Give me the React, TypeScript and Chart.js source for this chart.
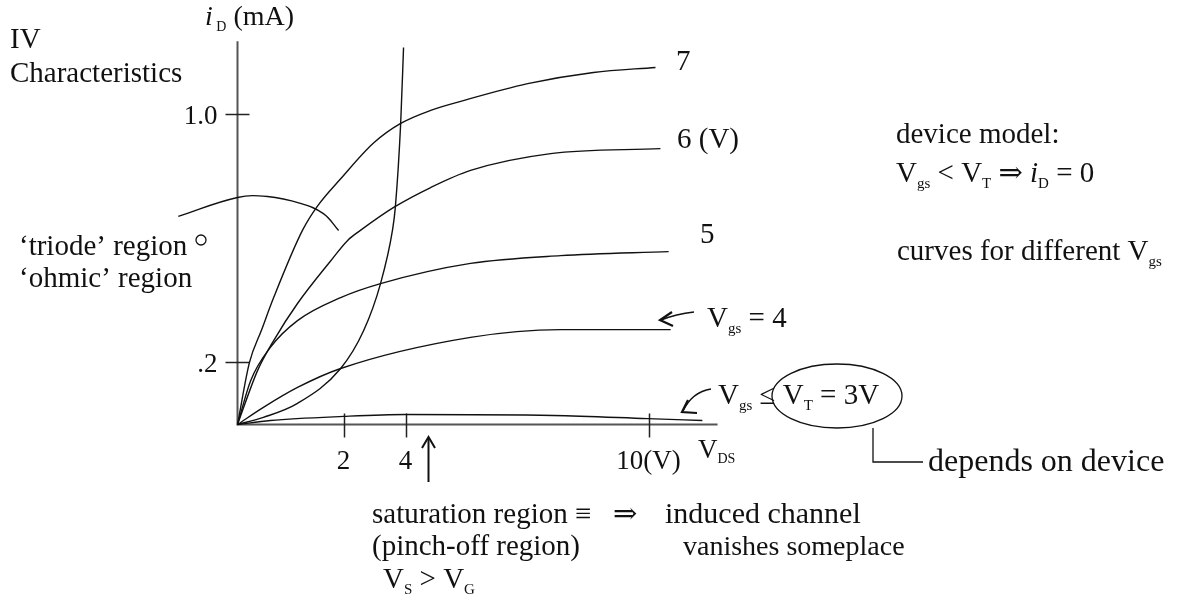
import React, { useEffect, useRef } from "react";
import { Chart, registerables } from "chart.js";

Chart.register(...registerables);

// ---------- data (x: V_DS in drawing units, y: i_D in mA) ----------
const vgs7: [number, number][] = [
  [0, 0], [0.29, 0.199], [0.58, 0.302], [0.88, 0.408], [1.58, 0.624], [1.95, 0.703],
  [2.51, 0.79], [3.31, 0.905], [3.97, 0.968], [4.7, 1.01], [5.43, 1.039], [7.06, 1.096],
  [8.66, 1.132], [10.17, 1.148],
];
const vgs6: [number, number][] = [
  [0, 0], [0.49, 0.174], [0.88, 0.27], [1.46, 0.389], [2.26, 0.525], [2.68, 0.592],
  [2.99, 0.624], [3.8, 0.698], [4.7, 0.762], [5.67, 0.817], [7.62, 0.871], [10.29, 0.887],
];
const vgs5: [number, number][] = [
  [0, 0], [0.32, 0.141], [0.8, 0.248], [1.46, 0.334], [2.51, 0.408], [3.48, 0.453],
  [5.67, 0.518], [7.86, 0.543], [10.49, 0.556],
];
const vgs4: [number, number][] = [
  [0, 0], [0.63, 0.055], [1.46, 0.119], [2.51, 0.18], [5.67, 0.28], [7.86, 0.305], [10.54, 0.305],
];
const vgs3: [number, number][] = [
  [0, 0], [0.8, 0.013], [2.58, 0.026], [4.09, 0.032], [7.69, 0.029], [9.98, 0.019], [11.31, 0.013],
];
const pinchOff: [number, number][] = [
  [0, 0], [0.63, 0.023], [1.46, 0.068], [2.51, 0.18], [3.07, 0.302], [3.48, 0.453],
  [3.77, 0.624], [3.84, 0.698], [3.97, 0.968], [4.04, 1.212],
];
const triodeArc: [number, number][] = [
  [-1.44, 0.669], [0, 0.73], [0.73, 0.733], [1.53, 0.711], [2.09, 0.678], [2.46, 0.624],
];

const xTickValues = [2.58, 4.09, 10];
const xTickLabels = ["2", "4", "10(V)"];
const yTickValues = [1.0, 0.2];
const yTickLabels = ["1.0", ".2"];
const xAxisEnd = 11.68;
const yAxisEnd = 1.232;

// ---------- layout ----------
const W = 1182;
const H = 598;
const ORIGIN_X = 237.5;
const ORIGIN_Y = 424.5;
const PX_X = 41.1;
const PX_Y = 311;

const SERIF = '"Liberation Serif", "Times New Roman", "DejaVu Serif", serif';
const BASE = 29;

type Seg = { t: string; sub?: boolean; it?: boolean };
type Note = { x: number; y: number; segs: Seg[]; size?: number };

const notes: Note[] = [
  { x: 10, y: 48, segs: [{ t: "IV" }] },
  { x: 10, y: 82, segs: [{ t: "Characteristics" }] },
  { x: 205, y: 25, size: 28, segs: [{ t: "i", it: true }, { t: " D", sub: true }, { t: " (mA)" }] },
  { x: 676, y: 70, segs: [{ t: "7" }] },
  { x: 677, y: 148, segs: [{ t: "6 (V)" }] },
  { x: 700, y: 243, segs: [{ t: "5" }] },
  { x: 707, y: 327, segs: [{ t: "V" }, { t: "gs", sub: true }, { t: " = 4" }] },
  { x: 718, y: 404, segs: [{ t: "V" }, { t: "gs", sub: true }, { t: " \u2264 " }, { t: "V" }, { t: "T", sub: true }, { t: " = 3V" }] },
  { x: 896, y: 143, segs: [{ t: "device model:" }] },
  { x: 896, y: 182, segs: [{ t: "V" }, { t: "gs", sub: true }, { t: " < V" }, { t: "T", sub: true }, { t: " \u21D2 " }, { t: "i", it: true }, { t: "D", sub: true }, { t: " = 0" }] },
  { x: 897, y: 260, segs: [{ t: "curves for different V" }, { t: "gs", sub: true }] },
  { x: 19, y: 255, segs: [{ t: "\u2018triode\u2019 region" }] },
  { x: 19, y: 287, segs: [{ t: "\u2018ohmic\u2019 region" }] },
  { x: 372, y: 523, segs: [{ t: "saturation region \u2261" }] },
  { x: 613, y: 523, segs: [{ t: "\u21D2" }] },
  { x: 665, y: 523, size: 30, segs: [{ t: "induced channel" }] },
  { x: 372, y: 555, segs: [{ t: "(pinch-off region)" }] },
  { x: 683, y: 555, size: 28, segs: [{ t: "vanishes someplace" }] },
  { x: 383, y: 588, segs: [{ t: "V" }, { t: "S", sub: true }, { t: " > V" }, { t: "G", sub: true }] },
  { x: 928, y: 471, size: 32, segs: [{ t: "depends on device" }] },
  { x: 698, y: 458, size: 27, segs: [{ t: "V" }, { t: "DS", sub: true }] },
];

function drawRich(ctx: CanvasRenderingContext2D, n: Note) {
  const base = n.size ?? BASE;
  let cx = n.x;
  ctx.textAlign = "left";
  ctx.textBaseline = "alphabetic";
  for (const s of n.segs) {
    const size = s.sub ? Math.round(base * 0.5) : base;
    ctx.font = `${s.it ? "italic " : ""}${size}px ${SERIF}`;
    const dy = s.sub ? base * 0.2 : 0;
    ctx.fillText(s.t, cx, n.y + dy);
    cx += ctx.measureText(s.t).width;
  }
}

function arrowHead(ctx: CanvasRenderingContext2D, tx: number, ty: number, ax: number, ay: number, bx: number, by: number) {
  ctx.beginPath();
  ctx.moveTo(ax, ay);
  ctx.lineTo(tx, ty);
  ctx.lineTo(bx, by);
  ctx.stroke();
}

const diagramPlugin = {
  id: "diagram",
  beforeDatasetsDraw(chart: any) {
    const ctx: CanvasRenderingContext2D = chart.ctx;
    const xs = chart.scales.x;
    const ys = chart.scales.y;
    const x0 = xs.getPixelForValue(0);
    const y0 = ys.getPixelForValue(0);
    ctx.save();
    ctx.strokeStyle = "#555";
    ctx.lineWidth = 2;
    ctx.beginPath();
    ctx.moveTo(x0, ys.getPixelForValue(yAxisEnd));
    ctx.lineTo(x0, y0);
    ctx.lineTo(xs.getPixelForValue(xAxisEnd), y0);
    ctx.stroke();
    ctx.lineWidth = 1.5;
    ctx.strokeStyle = "#222";
    xTickValues.forEach((v) => {
      const px = Math.round(xs.getPixelForValue(v)) + 0.5;
      ctx.beginPath();
      ctx.moveTo(px, y0 - 11);
      ctx.lineTo(px, y0 + 13);
      ctx.stroke();
    });
    yTickValues.forEach((v) => {
      const py = Math.round(ys.getPixelForValue(v)) + 0.5;
      ctx.beginPath();
      ctx.moveTo(x0 - 12, py);
      ctx.lineTo(x0 + 12, py);
      ctx.stroke();
    });
    ctx.fillStyle = "#111";
    ctx.font = `27px ${SERIF}`;
    ctx.textBaseline = "alphabetic";
    ctx.textAlign = "center";
    xTickValues.forEach((v, i) => {
      ctx.fillText(xTickLabels[i], xs.getPixelForValue(v), y0 + 44);
    });
    ctx.textAlign = "right";
    yTickValues.forEach((v, i) => {
      ctx.fillText(yTickLabels[i], x0 - 20, ys.getPixelForValue(v) + 10);
    });
    ctx.restore();
  },
  afterDraw(chart: any) {
    const ctx: CanvasRenderingContext2D = chart.ctx;
    ctx.save();
    ctx.fillStyle = "#111";
    ctx.strokeStyle = "#111";
    notes.forEach((n) => drawRich(ctx, n));

    ctx.lineWidth = 1.3;
    ctx.beginPath();
    ctx.arc(201, 240, 5, 0, Math.PI * 2);
    ctx.stroke();

    ctx.beginPath();
    ctx.ellipse(837, 396, 65, 32, 0, 0, Math.PI * 2);
    ctx.stroke();

    ctx.beginPath();
    ctx.moveTo(873, 428);
    ctx.lineTo(873, 462);
    ctx.lineTo(923, 462);
    ctx.stroke();

    ctx.lineWidth = 1.5;
    ctx.beginPath();
    ctx.moveTo(694, 312);
    ctx.quadraticCurveTo(676, 314, 661, 320);
    ctx.stroke();
    ctx.lineWidth = 2.2;
    arrowHead(ctx, 660, 320, 672, 312, 673, 326);

    ctx.lineWidth = 1.5;
    ctx.beginPath();
    ctx.moveTo(711, 389);
    ctx.quadraticCurveTo(692, 392, 683, 411);
    ctx.stroke();
    ctx.lineWidth = 2.2;
    arrowHead(ctx, 682, 412, 688, 400, 697, 413);

    ctx.lineWidth = 2;
    ctx.beginPath();
    ctx.moveTo(428.5, 438);
    ctx.lineTo(428.5, 482);
    ctx.stroke();
    arrowHead(ctx, 428.5, 437, 422, 448, 435, 448);
    ctx.restore();
  },
};

function line(data: [number, number][], mono = true) {
  return {
    data: data.map(([x, y]) => ({ x, y })),
    showLine: true,
    borderColor: "#111",
    borderWidth: 1.4,
    pointRadius: 0,
    fill: false,
    tension: 0.4,
    cubicInterpolationMode: mono ? ("monotone" as const) : ("default" as const),
  };
}

export default function App() {
  const ref = useRef<HTMLCanvasElement | null>(null);
  useEffect(() => {
    document.body.style.margin = "0";
    document.body.style.background = "#fff";
    if (!ref.current) return;
    const chart = new Chart(ref.current, {
      type: "scatter",
      data: {
        datasets: [
          line(vgs7),
          line(vgs6),
          line(vgs5),
          line(vgs4),
          line(vgs3),
          line(pinchOff),
          line(triodeArc, false),
        ],
      },
      options: {
        animation: false,
        responsive: false,
        maintainAspectRatio: false,
        layout: { padding: 0 },
        plugins: { legend: { display: false }, tooltip: { enabled: false } },
        scales: {
          x: { type: "linear", display: false, min: -ORIGIN_X / PX_X, max: (W - ORIGIN_X) / PX_X },
          y: { type: "linear", display: false, min: -(H - ORIGIN_Y) / PX_Y, max: ORIGIN_Y / PX_Y },
        },
      },
      plugins: [diagramPlugin],
    });
    return () => chart.destroy();
  }, []);
  return (
    <div style={{ width: W, height: H, background: "#fff" }}>
      <canvas ref={ref} width={W} height={H} style={{ display: "block" }} />
    </div>
  );
}
